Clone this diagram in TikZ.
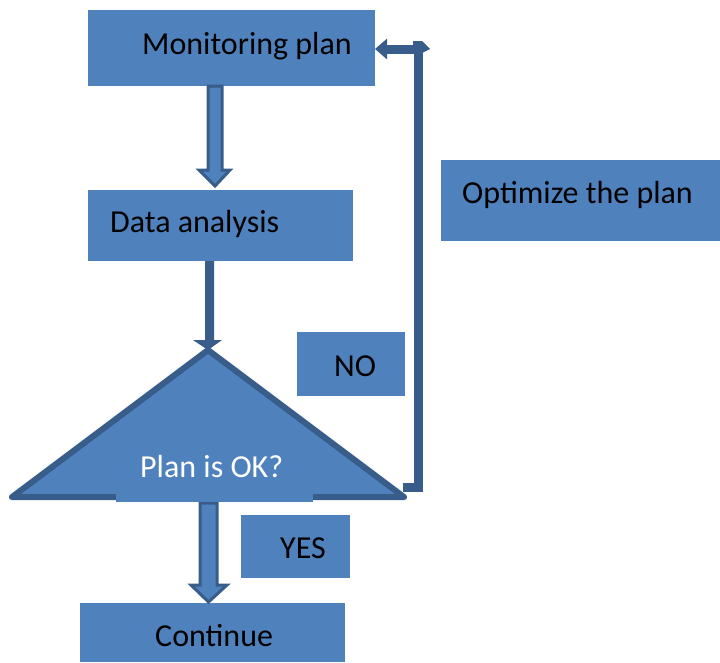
\documentclass[tikz,border=0pt]{standalone}
\usepackage{fontspec}
\setmainfont{Carlito}
\usetikzlibrary{arrows.meta}
\definecolor{boxblue}{HTML}{4F81BD}
\definecolor{edgeblue}{HTML}{385D8A}
\begin{document}
\begin{tikzpicture}[x=1pt,y=-1pt,
  box/.style={fill=boxblue,draw=none,inner sep=0pt,outer sep=0pt},
  txt/.style={inner sep=0pt,anchor=base west,font=\fontsize{32}{37}\selectfont,text=black},
  blockarrow/.style={draw=edgeblue,fill=boxblue,line width=3pt,line join=miter},
  solidarrow/.style={fill=edgeblue,draw=none},
  loopline/.style={draw=edgeblue,line width=9pt}]
\useasboundingbox (0,0) rectangle (720,662);

% decision triangle corners
\coordinate (apex) at (208,350);
\coordinate (tl) at (12,497);
\coordinate (tr) at (404,497);

% boxes
\node[box,minimum width=287pt,minimum height=76pt] (mon) at (231.5,48) {};
\node[box,minimum width=265pt,minimum height=71pt] (data) at (220.5,225.5) {};
\node[box,minimum width=279pt,minimum height=81pt] (opt) at (580.5,200.5) {};
\node[box,minimum width=108pt,minimum height=64pt] (no) at (351,364) {};
\node[box,minimum width=109pt,minimum height=63pt] (yes) at (295.5,546.5) {};
\node[box,minimum width=265pt,minimum height=59pt] (cont) at (212.5,632.5) {};

% block arrow: monitoring plan -> data analysis
\path[blockarrow] (208,86) -- (222,86) -- (222,170) -- (230,170) -- (215,186)
  -- (199,170) -- (208,170) -- cycle;
% solid arrow: data analysis -> decision
\path[solidarrow] (205,261) -- (214,261) -- (214,340) -- (222,340) -- (apex)
  -- (193,340) -- (205,340) -- cycle;
% block arrow: decision -> continue
\path[blockarrow] (200,503) -- (217,503) -- (217,585) -- (227,585) -- (208.5,602)
  -- (191,585) -- (200,585) -- cycle;

% decision triangle
\path[draw=edgeblue,fill=boxblue,line width=6pt,line join=round] (apex) -- (tl) -- (tr) -- cycle;
\node[box,minimum width=197pt,minimum height=62pt] (dec) at (214.5,471) {};

% feedback loop back to the monitoring plan
\coordinate (lb) at (403,487);
\coordinate (lc) at (418,487);
\coordinate (lt) at (418,49);
\draw[loopline,-{Triangle[length=12pt,width=20pt]}] (lb) -- (lc) -- (lt) -- (mon.east |- lt);
\path[fill=edgeblue] (413,41) -- (422,41) -- (430,49) -- (422,53) -- (413,53) -- cycle;

% texts
\node[txt] (mont) at (142,54) {Monitoring plan};
\node[txt] (datat) at (110,232) {Data analysis};
\node[txt] (optt) at (462,203) {Optimize the plan};
\node[txt] (not) at (334,376) {NO};
\node[txt,text=white] (dect) at (140,477) {Plan is OK?};
\node[txt] (yest) at (280,558) {YES};
\node[txt] (contt) at (155,646) {Continue};
\end{tikzpicture}
\end{document}
